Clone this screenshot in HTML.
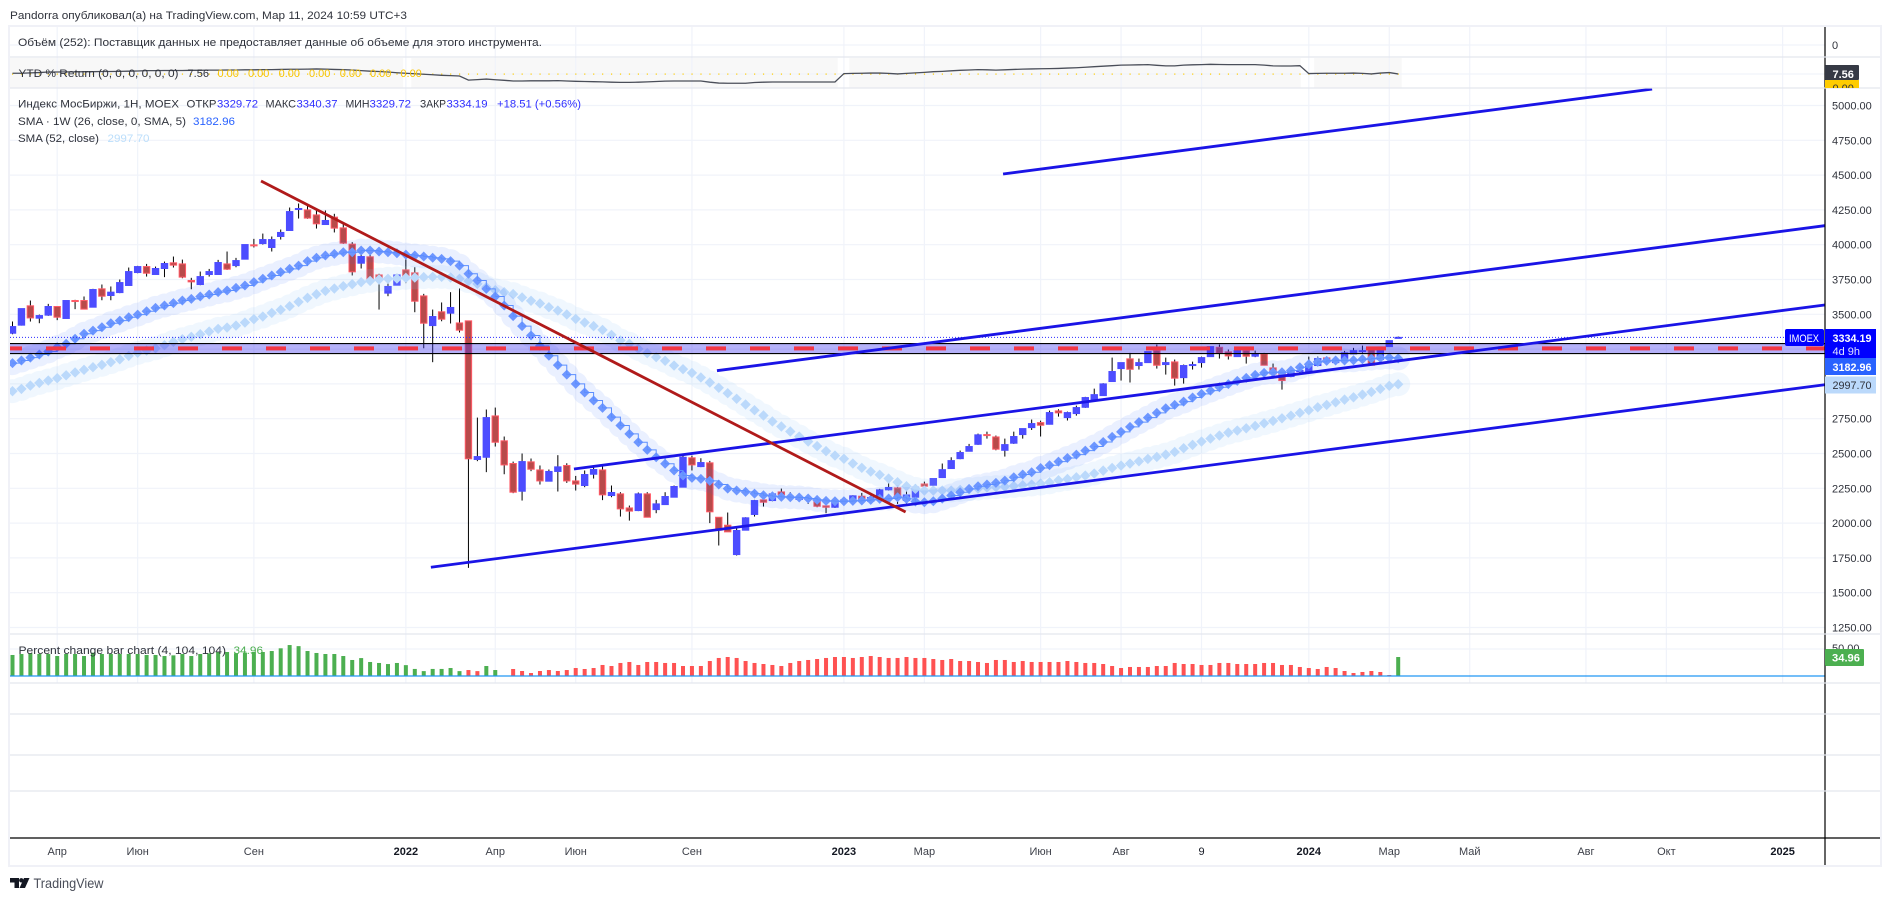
<!DOCTYPE html>
<html lang="ru">
<head>
<meta charset="utf-8">
<title>IMOEX weekly chart</title>
<style>
html,body{margin:0;padding:0;background:#fff;width:1891px;height:901px;overflow:hidden}
svg{display:block}
text{font-family:"Liberation Sans","DejaVu Sans",sans-serif;font-size:11px;fill:#2f323b}
</style>
</head>
<body>
<svg id="chart" xmlns="http://www.w3.org/2000/svg" width="1891" height="901" viewBox="0 0 1891 901">
  <defs>
    <clipPath id="mainClip"><rect x="10" y="88" width="1815" height="546"/></clipPath>
    <clipPath id="yellowClip"><rect x="1825" y="80" width="40" height="8"/></clipPath>
  </defs>
  <rect x="0" y="0" width="1891" height="901" fill="#fff"/>
  <g id="ytdShade"></g>
  <g id="grid"></g>
  <g id="candles" clip-path="url(#mainClip)"></g>
  <g id="smas" clip-path="url(#mainClip)"></g>
  <g id="levels"></g>
  <g id="trends" clip-path="url(#mainClip)"></g>
  <g id="ytdPane"></g>
  <g id="pctPane"></g>
  <g id="frame"></g>
  <g id="priceAxis"></g>
  <g id="timeAxis"></g>

  <text x="10" y="19" textLength="397" lengthAdjust="spacingAndGlyphs">Pandorra опубликовал(а) на TradingView.com, Мар 11, 2024 10:59 UTC+3</text>

  <text x="18" y="46" textLength="524" lengthAdjust="spacingAndGlyphs">Объём (252): Поставщик данных не предоставляет данные об объеме для этого инструмента.</text>

  <g>
    <text x="18.5" y="77" textLength="160" lengthAdjust="spacingAndGlyphs">YTD % Return (0, 0, 0, 0, 0, 0)</text>
    <text x="187.5" y="77" textLength="21.5" lengthAdjust="spacingAndGlyphs">7.56</text>
    <text x="217.5" y="77" style="fill:#f7c400">0.00</text>
    <text x="248" y="77" style="fill:#f7c400">0.00</text>
    <text x="278.6" y="77" style="fill:#f7c400">0.00</text>
    <text x="309" y="77" style="fill:#f7c400">0.00</text>
    <text x="339.7" y="77" style="fill:#f7c400">0.00</text>
    <text x="370" y="77" style="fill:#f7c400">0.00</text>
    <text x="400.4" y="77" style="fill:#f7c400">0.00</text>
  </g>

  <g>
    <text x="18" y="107.5" textLength="161" lengthAdjust="spacingAndGlyphs">Индекс МосБиржи, 1H, MOEX</text>
    <text x="186.5" y="107.5" textLength="30" lengthAdjust="spacingAndGlyphs">ОТКР</text>
    <text x="217" y="107.5" textLength="41" lengthAdjust="spacingAndGlyphs" style="fill:#2f2fff">3329.72</text>
    <text x="265.5" y="107.5" textLength="30.5" lengthAdjust="spacingAndGlyphs">МАКС</text>
    <text x="296.5" y="107.5" textLength="41" lengthAdjust="spacingAndGlyphs" style="fill:#2f2fff">3340.37</text>
    <text x="345.5" y="107.5" textLength="24" lengthAdjust="spacingAndGlyphs">МИН</text>
    <text x="369.5" y="107.5" textLength="41.5" lengthAdjust="spacingAndGlyphs" style="fill:#2f2fff">3329.72</text>
    <text x="420" y="107.5" textLength="26" lengthAdjust="spacingAndGlyphs">ЗАКР</text>
    <text x="446.5" y="107.5" textLength="41" lengthAdjust="spacingAndGlyphs" style="fill:#2f2fff">3334.19</text>
    <text x="497" y="107.5" textLength="84" lengthAdjust="spacingAndGlyphs" style="fill:#2f2fff">+18.51 (+0.56%)</text>
    <text x="18" y="125" textLength="168" lengthAdjust="spacingAndGlyphs">SMA · 1W (26, close, 0, SMA, 5)</text>
    <text x="193" y="125" textLength="42" lengthAdjust="spacingAndGlyphs" style="fill:#2962ff">3182.96</text>
    <text x="18" y="142" textLength="81" lengthAdjust="spacingAndGlyphs">SMA (52, close)</text>
    <text x="107.5" y="142" textLength="42" lengthAdjust="spacingAndGlyphs" style="fill:#bbdefb">2997.70</text>
  </g>

  <g>
    <text x="18.5" y="654" textLength="207.5" lengthAdjust="spacingAndGlyphs">Percent change bar chart (4, 104, 104)</text>
    <text x="233.5" y="654" textLength="29.5" lengthAdjust="spacingAndGlyphs" style="fill:#4caf50">34.96</text>
  </g>

  <g>
    <rect x="1785" y="329" width="39" height="17" rx="2" fill="#0000ff"/>
    <text x="1789" y="342" textLength="30" lengthAdjust="spacingAndGlyphs" style="fill:#fff">IMOEX</text>
    <rect x="1825" y="329" width="51" height="29" fill="#0000ff"/>
    <text x="1832.5" y="342" style="fill:#fff;font-weight:bold" textLength="39" lengthAdjust="spacingAndGlyphs">3334.19</text>
    <text x="1832.5" y="355" style="fill:#dfe3ff">4d 9h</text>
    <rect x="1825" y="358" width="51" height="17" fill="#2962ff"/>
    <text x="1832.5" y="371" style="fill:#fff;font-weight:bold" textLength="39" lengthAdjust="spacingAndGlyphs">3182.96</text>
    <rect x="1825" y="376.5" width="51" height="17" fill="#bbd9fb"/>
    <text x="1832.5" y="389" textLength="39" lengthAdjust="spacingAndGlyphs">2997.70</text>
    <rect x="1825" y="65" width="34" height="15" rx="1" fill="#363a45"/>
    <text x="1832.5" y="78" style="fill:#fff;font-weight:bold">7.56</text>
    <g clip-path="url(#yellowClip)">
      <rect x="1825" y="80" width="34" height="15" fill="#ffcc00"/>
      <text x="1832.5" y="92">0.00</text>
    </g>
    <rect x="1825" y="649" width="39" height="17" rx="1" fill="#4caf50"/>
    <text x="1832" y="661.5" style="fill:#fff;font-weight:bold" textLength="28" lengthAdjust="spacingAndGlyphs">34.96</text>
  </g>

  <g>
    <path d="M10 878h9v10h-4.5v-5.5H10z" fill="#131722"/>
    <circle cx="21.3" cy="880.3" r="2.2" fill="#131722"/>
    <path d="M24 878h5.5l-4.5 10h-5.5z" fill="#131722"/>
    <text x="33.5" y="888" textLength="70" lengthAdjust="spacingAndGlyphs" style="font-size:14px;fill:#4a4e59">TradingView</text>
  </g>
</svg>

<script>
// ---- price-axis and time-axis labels ----
const priceTicks = [5000,4750,4500,4250,4000,3750,3500,3250,3000,2750,2500,2250,2000,1750,1500,1250];
const hiddenPriceLabels = [3250];
const timeLabels = ['Апр','Июн','Сен','2022','Апр','Июн','Сен','2023','Мар','Июн','Авг','9','2024','Мар','Май','Авг','Окт','2025'];
const timeTickBars = [5,14,27,44,54,63,76,93,102,115,124,133,145,154,163,176,185,198];

// ---- weekly OHLC ----
const opens = [
3364,3422,3561,3472,3494,3556,3470,3599,3599,3551,
3683,3635,3656,3707,3800,3843,3786,3829,3870,3862,
3743,3714,3786,3786,3862,3850,3896,3999,4008,3980,
4059,4102,4255,4250,4214,4145,4198,4121,4004,3867,
3913,3783,3652,3709,3819,3798,3632,3419,3518,3508,
3438,3453,2457,2473,2770,2591,2428,2229,2440,2382,
2301,2371,2414,2303,2270,2351,2382,2198,2210,2109,
2090,2210,2097,2133,2186,2258,2469,2406,2433,2042,
1985,1774,1949,2062,2167,2162,2224,2186,2172,2177,
2172,2124,2114,2157,2157,2193,2157,2186,2239,2253,
2162,2186,2281,2272,2327,2392,2463,2516,2566,2636,
2619,2523,2574,2636,2686,2722,2710,2806,2758,2787,
2832,2880,2916,3017,3110,3180,3132,3153,3239,3139,
3158,3045,3132,3153,3196,3263,3230,3196,3239,3199,
3215,3115,3077,3053,3089,3089,3132,3187,3153,3160,
3215,3232,3247,3175,3268,3329.72];
const highs = [
3448,3541,3599,3498,3575,3556,3599,3604,3628,3683,
3714,3700,3750,3836,3848,3862,3843,3879,3915,3893,
3762,3807,3826,3891,3951,3905,4001,4042,4080,4059,
4109,4267,4296,4289,4258,4246,4222,4162,4018,3977,
3934,3791,3731,3791,3894,3838,3647,3534,3585,3659,
3685,3453,2758,2816,2830,2622,2442,2500,2464,2414,
2385,2488,2430,2339,2378,2414,2414,2270,2222,2126,
2220,2222,2167,2222,2270,2485,2485,2466,2447,2042,
2076,1966,2042,2167,2191,2222,2248,2222,2210,2205,
2177,2131,2153,2186,2200,2217,2205,2246,2287,2270,
2226,2281,2298,2320,2428,2473,2521,2569,2643,2657,
2629,2607,2657,2679,2744,2736,2808,2818,2801,2844,
2907,2966,3005,3189,3153,3223,3182,3232,3283,3189,
3175,3139,3160,3196,3268,3283,3247,3254,3254,3239,
3223,3146,3084,3103,3110,3196,3196,3196,3182,3237,
3259,3275,3254,3268,3311,3340.37];
const lows = [
3357,3419,3448,3436,3489,3458,3470,3537,3537,3549,
3601,3601,3652,3707,3795,3771,3786,3767,3836,3759,
3680,3709,3771,3786,3819,3838,3894,3980,4001,3951,
4037,4102,4188,4186,4116,4145,4088,4006,3779,3829,
3747,3534,3630,3707,3724,3515,3256,3156,3450,3434,
3369,1678,2445,2366,2550,2351,2215,2162,2373,2277,
2301,2227,2289,2234,2258,2320,2165,2186,2047,2018,
2086,2040,2071,2133,2186,2258,2378,2402,2000,1839,
1937,1767,1949,2047,2119,2157,2191,2157,2162,2138,
2114,2071,2109,2138,2148,2150,2148,2181,2234,2138,
2133,2186,2238,2248,2327,2392,2459,2516,2562,2607,
2523,2478,2569,2607,2669,2622,2708,2765,2737,2772,
2828,2875,2914,3017,3024,3010,3103,3153,3110,3067,
2988,3002,3103,3117,3196,3182,3175,3196,3146,3192,
3132,3038,2959,3048,3079,3089,3132,3156,3139,3160,
3211,3223,3132,3172,3268,3329.72];
const closes = [
3412,3541,3474,3491,3556,3479,3599,3594,3537,3678,
3630,3659,3728,3807,3843,3795,3829,3865,3853,3767,
3733,3771,3807,3872,3824,3886,4001,3994,4037,4037,
4088,4238,4260,4191,4150,4174,4119,4011,3805,3915,
3752,3747,3700,3783,3771,3594,3436,3484,3465,3549,
3386,2462,2478,2758,2581,2418,2222,2442,2387,2303,
2371,2404,2303,2280,2349,2385,2203,2220,2102,2086,
2210,2042,2138,2191,2263,2473,2418,2435,2081,1949,
1937,1947,2038,2162,2150,2210,2205,2193,2177,2172,
2121,2114,2148,2167,2196,2162,2184,2239,2256,2181,
2202,2258,2265,2320,2384,2449,2507,2550,2634,2631,
2531,2564,2622,2679,2715,2703,2794,2792,2794,2830,
2902,2923,3000,3089,3153,3105,3153,3232,3134,3153,
3041,3132,3139,3189,3268,3220,3201,3239,3199,3215,
3134,3072,3024,3084,3096,3129,3182,3156,3163,3223,
3239,3239,3134,3259,3311,3334.19];

// ---- moving averages ----
const smaFast = [
3149,3168,3189,3211,3233,3264,3288,3324,3360,3383,
3407,3436,3455,3479,3498,3522,3546,3563,3580,3599,
3611,3628,3642,3659,3671,3690,3707,3731,3755,3779,
3803,3826,3850,3882,3906,3922,3934,3946,3946,3958,
3958,3951,3946,3939,3929,3922,3915,3906,3898,3882,
3850,3791,3743,3683,3628,3563,3487,3415,3348,3273,
3202,3135,3067,3000,2938,2881,2828,2761,2701,2641,
2581,2526,2473,2426,2378,2342,2325,2318,2303,2277,
2248,2234,2224,2212,2200,2193,2188,2186,2184,2177,
2167,2160,2157,2157,2160,2162,2167,2174,2177,2186,
2174,2155,2150,2157,2176,2198,2222,2246,2265,2277,
2289,2305,2329,2349,2365,2396,2416,2442,2468,2492,
2521,2550,2583,2619,2655,2691,2725,2758,2792,2825,
2849,2873,2902,2928,2952,2976,2998,3022,3043,3065,
3079,3084,3084,3096,3120,3141,3158,3165,3168,3168,
3170,3177,3182,3187,3189,3182.96];
const smaSlow = [
2948,2964,2988,3007,3024,3041,3062,3082,3101,3120,
3137,3156,3177,3201,3223,3240,3256,3278,3302,3321,
3338,3357,3376,3395,3405,3419,3441,3465,3484,3510,
3532,3558,3589,3618,3644,3668,3685,3702,3716,3731,
3740,3750,3755,3757,3762,3764,3767,3769,3769,3764,
3755,3738,3719,3695,3673,3659,3645,3621,3597,3578,
3551,3527,3499,3467,3441,3415,3388,3352,3312,3288,
3252,3221,3192,3166,3132,3106,3079,3046,3010,2972,
2933,2893,2852,2811,2773,2730,2694,2658,2622,2586,
2553,2517,2485,2462,2428,2397,2370,2347,2320,2294,
2265,2246,2234,2234,2234,2234,2238,2243,2248,2255,
2258,2262,2267,2272,2277,2284,2293,2308,2317,2329,
2341,2356,2377,2396,2413,2428,2444,2461,2475,2492,
2511,2538,2562,2586,2607,2629,2650,2665,2681,2698,
2717,2734,2753,2772,2792,2811,2832,2849,2868,2887,
2904,2923,2942,2964,2986,2997.7];

// ---- YTD % return pane ----
const ytdValues = [
8.0,8.0,8.2,8.4,8.7,8.7,8.8,8.8,8.9,8.9,
9.0,9.0,9.1,9.2,9.3,9.5,9.5,9.6,9.6,9.6,
9.7,9.7,9.8,9.8,9.9,9.9,10,10,10.1,10.1,
10.2,10.3,10.3,10.4,10.5,10.4,10.2,10.1,9.9,9.5,
9.2,9.0,8.7,8.3,8.0,7.7,7.4,7.1,6.8,6.6,
6.4,4.0,4.3,4.6,4.2,3.9,3.5,3.5,3.6,3.6,
3.6,3.7,3.5,3.3,3.2,3.1,3.0,2.8,2.7,2.7,
2.8,3.0,3.2,3.4,3.5,3.5,3.5,3.5,2.8,2.3,
2.2,2.2,2.2,2.6,2.8,2.9,2.9,2.9,2.9,2.9,
2.9,2.9,2.9,7.8,7.9,8.0,8.1,8.1,7.9,7.6,
7.9,8.2,8.5,8.9,9.1,9.4,9.7,9.9,10.1,10,
9.8,10,10.2,10.4,10.5,10.6,10.7,10.8,11,11.2,
11.5,11.8,12.1,12.4,12.7,12.8,12.9,13,12.6,12.3,
12.3,12.7,12.9,13,13.2,13.1,13,13,13,13,
12.7,12.3,12.2,12.2,12.4,7.8,7.9,8,8,8,
8.1,7.9,7.6,8.1,8.4,7.56];
const ytdDottedLevel = 7.56;
const ytdShadeFrom = [-0.3,44.6,93.6,145.6];
const ytdShadeTo = [43.7,92.3,144.1,155.4];

// ---- percent-change pane: positive = green, negative = red ----
const percentChange = [
38.7,40.5,41.8,40.5,40.5,36.8,40.5,40.5,36.8,43,
40.5,40.5,40.5,40.5,40.5,38.7,38.7,36.8,38,40.5,
36.8,40.5,41.8,44.8,44.2,41.8,43,44.2,44.2,46,
51,57,55,46,42.4,40.5,40.5,36.8,29.5,33,
25.8,24,22,24,20,13,9,13,13,14.7,
9,-11,-9,18.4,11,0,-12.9,-9.2,-5.5,-9.2,
-11,-9.2,-11,-14.7,-12.9,-14.7,-20.3,-18.4,-24,-25.8,
-20.3,-25.8,-25.8,-24,-24,-18.4,-18.4,-18.4,-27.6,-33.2,
-35,-33.2,-27.6,-24,-22.1,-20.3,-18.4,-24,-27.6,-29.5,
-31.3,-33.2,-35,-35,-33.2,-35,-36.8,-35,-33.2,-33.2,
-35,-33.2,-33.2,-31.3,-29.5,-31.3,-27.6,-27.6,-25.8,-24,
-29.5,-29.5,-25.8,-27.6,-25.8,-25.8,-25.8,-25.8,-27.6,-25.8,
-24,-24,-22.1,-18.4,-14.7,-16.6,-16.6,-16.6,-18.4,-18.4,
-24,-22.1,-22.1,-20.3,-20.3,-24,-24,-22.1,-22.1,-22.1,
-24,-24,-20.3,-20.3,-16.6,-14.7,-12.9,-16.6,-14.7,-9.2,
-5.5,-7.4,-9.2,-7.4,-1.8,34.96];

// ---- drawings: anchors are (bar index, price) ----
const blueTrendBars = [[110.8,183.4],[78.8,202.7],[62.8,202.7],[46.8,202.7]];
const blueTrendPrices = [[4508,5118],[3095,4136.5],[2389,3567],[1683,2994]];
const redTrendBars = [27.8,99.9];
const redTrendPrices = [4458,2080];
const bandTopPrice = 3290;
const bandBottomPrice = 3218;
const bandMidPrice = 3255;
const lastClose = 3334.19;

// ---- axis functions ----
const PANE_LEFT = 10, PANE_RIGHT = 1825;
function barX(i){ return 12.5 + 8.94 * i; }
function priceY(p){ return 105.5 + (5000 - p) * 0.1392; }
function ytdY(v){ return 87 - 1.72 * v; }
function pctY(v){ return 676 - 0.543 * v; }

const NS = 'http://www.w3.org/2000/svg';
function mk(tag, attrs, parent){
  const el = document.createElementNS(NS, tag);
  for (const k in attrs) el.setAttribute(k, attrs[k]);
  parent.appendChild(el);
  return el;
}
const gGrid = document.getElementById('grid');
const gCandles = document.getElementById('candles');
const gSmas = document.getElementById('smas');
const gLevels = document.getElementById('levels');
const gTrends = document.getElementById('trends');
const gYtd = document.getElementById('ytdPane');
const gShade = document.getElementById('ytdShade');
const gPct = document.getElementById('pctPane');
const gFrame = document.getElementById('frame');
const gPrice = document.getElementById('priceAxis');
const gTime = document.getElementById('timeAxis');

// YTD shading
ytdShadeFrom.forEach(function(f, k){
  const left = Math.max(PANE_LEFT, barX(f));
  const r = mk('rect', {x:left, y:58, width:barX(ytdShadeTo[k]) - left, height:30, fill:'#f8f8f8'}, gShade);
  
  
});

// grid
priceTicks.forEach(function(p){
  const l = mk('line', {x1:PANE_LEFT, x2:PANE_RIGHT, y1:priceY(p), y2:priceY(p), stroke:'#f0f3fa', 'stroke-width':1.2}, gGrid);
  
  
});
[45, 74, 649].forEach(function(y){
  const l = mk('line', {x1:PANE_LEFT, x2:PANE_RIGHT, y1:y, y2:y, stroke:'#f0f3fa', 'stroke-width':1.2}, gGrid);
  
  
});
timeTickBars.forEach(function(b){
  const l = mk('line', {x1:barX(b), x2:barX(b), y1:27, y2:683, stroke:'#f0f3fa', 'stroke-width':1.2}, gGrid);
  
  
});

// candles
opens.forEach(function(o, i){
  const c = closes[i];
  const up = c >= o;
  const x = barX(i);
  const wick = mk('line', {x1:x, x2:x, y1:priceY(highs[i]), y2:priceY(lows[i]), stroke:'#000', 'stroke-width':1}, gCandles);
  
  
  const top = priceY(Math.max(o, c));
  const h = Math.max(1, priceY(Math.min(o, c)) - top);
  const body = mk('rect', {x:x-3.2, y:top, width:6.4, height:h,
    fill: up ? '#4d4dff' : '#b84a4a', stroke: up ? '#4d4dff' : '#ff5a66', 'stroke-width':1}, gCandles);
  
  
});

// SMA overlays
function drawSma(values, haloColor, haloOpacity, diamondColor, half, label){
  const halo = mk('g', {opacity:haloOpacity}, gSmas);
  
  
  values.forEach(function(v, i){
    const c = mk('circle', {cx:barX(i), cy:priceY(v), r:12, fill:haloColor}, halo);
    
    
  });
  values.forEach(function(v, i){
    const x = barX(i), y = priceY(v);
    const d = mk('polygon', {points:(x-half)+','+y+' '+x+','+(y-half)+' '+(x+half)+','+y+' '+x+','+(y+half), fill:diamondColor}, gSmas);
    
    
  });
}
drawSma(smaSlow, '#90caf9', 0.13, '#bbd9fb', 5.2, 'sma-52');
drawSma(smaFast, '#2962ff', 0.09, '#6d96ff', 5, 'sma-1w');
let stepPts = '';
smaFast.forEach(function(v, i){
  stepPts += barX(i) + ',' + priceY(v) + ' ';
  if (i < smaFast.length - 1) stepPts += barX(i + 1) + ',' + priceY(v) + ' ';
});
const stepLine = mk('polyline', {points:stepPts, fill:'none', stroke:'#5c8eff', 'stroke-width':1}, gSmas);



// horizontal band and price line
const band = mk('rect', {x:PANE_LEFT, y:priceY(bandTopPrice), width:PANE_RIGHT-PANE_LEFT, height:priceY(bandBottomPrice)-priceY(bandTopPrice), fill:'rgba(60,50,240,0.38)'}, gLevels);


[bandTopPrice, bandBottomPrice].forEach(function(p){
  const l = mk('line', {x1:PANE_LEFT, x2:PANE_RIGHT, y1:priceY(p), y2:priceY(p), stroke:'#000', 'stroke-width':1.1}, gLevels);
  
  
});
const midFirst = mk('rect', {x:PANE_LEFT, y:priceY(bandMidPrice)-2, width:12, height:4, fill:'#f23645'}, gLevels);


for (let dx = 46; dx < PANE_RIGHT; dx += 44) {
  const d = mk('rect', {x:dx, y:priceY(bandMidPrice)-2, width:Math.min(20, PANE_RIGHT-dx), height:4, fill:'#f23645'}, gLevels);
  
  
}
const lastLine = mk('line', {x1:PANE_LEFT, x2:PANE_RIGHT, y1:priceY(lastClose), y2:priceY(lastClose), stroke:'#2a2aff', 'stroke-width':1, 'stroke-dasharray':'1 2'}, gLevels);



// trend lines
blueTrendBars.forEach(function(b, k){
  const l = mk('line', {x1:barX(b[0]), x2:barX(b[1]), y1:priceY(blueTrendPrices[k][0]), y2:priceY(blueTrendPrices[k][1]), stroke:'#1a14e6', 'stroke-width':2.8}, gTrends);
  
  
});
const redLine = mk('line', {x1:barX(redTrendBars[0]), x2:barX(redTrendBars[1]), y1:priceY(redTrendPrices[0]), y2:priceY(redTrendPrices[1]), stroke:'#b01a1a', 'stroke-width':2.8}, gTrends);



// YTD pane
ytdValues.forEach(function(v, i){
  const d = mk('rect', {x:barX(i)-0.5, y:ytdY(ytdDottedLevel)-0.5, width:1.2, height:1.2, fill:'#ffcc00'}, gYtd);
  
  
});
const ytdLine = mk('polyline', {points:ytdValues.map(function(v, i){ return barX(i) + ',' + ytdY(v); }).join(' '), fill:'none', stroke:'#4a4e59', 'stroke-width':1.3}, gYtd);



// percent-change pane
percentChange.forEach(function(v, i){
  if (v === 0) return;
  const top = pctY(Math.abs(v));
  const b = mk('rect', {x:barX(i)-2, y:top, width:4, height:pctY(0)-top, fill: v > 0 ? '#4caf50' : '#ff5252'}, gPct);
  
  
});
const zeroLine = mk('line', {x1:PANE_LEFT, x2:PANE_RIGHT, y1:pctY(0), y2:pctY(0), stroke:'#2196f3', 'stroke-width':1.2}, gPct);



// frame and axis lines
const axisV = mk('line', {x1:PANE_RIGHT, x2:PANE_RIGHT, y1:27, y2:866, stroke:'#000', 'stroke-width':1.2}, gFrame);


const axisH = mk('line', {x1:PANE_LEFT, x2:1881, y1:838, y2:838, stroke:'#000', 'stroke-width':1.2}, gFrame);


[57, 88, 634, 683, 714, 755, 791].forEach(function(y){
  const l = mk('line', {x1:PANE_LEFT, x2:1881, y1:y, y2:y, stroke:'#e4e6ee', 'stroke-width':1.2}, gFrame);
  
  
});
const border = mk('rect', {x:9, y:26, width:1872, height:840, fill:'none', stroke:'#f0f1f7', 'stroke-width':2}, gFrame);



// price-axis labels
priceTicks.forEach(function(p){
  if (hiddenPriceLabels.indexOf(p) >= 0) return;
  const t = mk('text', {x:1832, y:priceY(p)+4}, gPrice);
  
  
  t.textContent = p.toFixed(2);
});
const zeroTick = mk('text', {x:1832, y:49}, gPrice);


zeroTick.textContent = '0';
const fiftyTick = mk('text', {x:1832, y:pctY(50)+3}, gPrice);


fiftyTick.textContent = '50.00';

// time-axis labels
timeLabels.forEach(function(label, k){
  const major = /^\d+$/.test(label);
  const t = mk('text', {x:barX(timeTickBars[k]), y:855, 'text-anchor':'middle'}, gTime);
  
  
  t.style.fill = major ? '#131722' : '#3c3f48';
  t.style.fontWeight = (major && label.length > 1) ? 'bold' : 'normal';
  t.textContent = label;
});
</script>
</body>
</html>
